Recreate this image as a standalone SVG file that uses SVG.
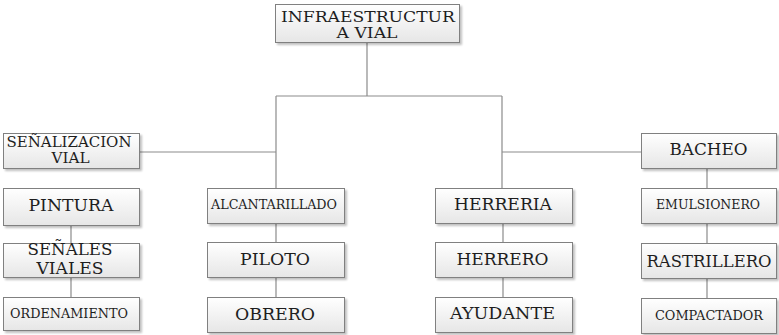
<svg xmlns="http://www.w3.org/2000/svg" width="779" height="335" viewBox="0 0 779 335">
<defs>
<linearGradient id="g" x1="0" y1="0" x2="0" y2="1">
<stop offset="0" stop-color="#ffffff"/>
<stop offset="1" stop-color="#e6e6e6"/>
</linearGradient>
<filter id="sh" x="-10%" y="-10%" width="130%" height="140%">
<feGaussianBlur in="SourceAlpha" stdDeviation="1"/>
<feOffset dx="2" dy="2" result="o"/>
<feComponentTransfer><feFuncA type="linear" slope="0.25"/></feComponentTransfer>
<feMerge><feMergeNode/><feMergeNode in="SourceGraphic"/></feMerge>
</filter>
</defs>
<style>
.b{fill:url(#g);stroke:#808080;stroke-width:1;filter:url(#sh)}
.t{font-family:"DejaVu Serif","Liberation Serif",serif;fill:#1e1e1e;text-anchor:middle}
.c{stroke:#8c8c8c;stroke-width:1.2;fill:none}
</style>
<g id="connectors">
<path class="c" d="M367,43 V96 M276,96 H502 M276,96 V188 M502,96 V188 M139,152 H276 M502,152 H641"/>
<path class="c" d="M71,226 V243 M71,277 V297 M276,223 V242 M276,277 V297 M503,223 V242 M503,277 V297 M707,168 V188 M707,223 V243 M707,278 V298"/>
</g>
<g id="infraestructura"><rect class="b" x="275.5" y="4.5" width="184" height="38"/><text class="t" x="368" y="21.5" font-size="15.5" textLength="174" lengthAdjust="spacingAndGlyphs">INFRAESTRUCTUR</text><text class="t" x="367" y="38" font-size="15.5" textLength="61" lengthAdjust="spacingAndGlyphs">A VIAL</text></g>
<g id="senalizacion"><rect class="b" x="3.5" y="133.5" width="136" height="35"/><text class="t" x="69" y="146.5" font-size="14" textLength="125" lengthAdjust="spacingAndGlyphs">SEÑALIZACION</text><text class="t" x="70.5" y="163" font-size="14" textLength="38" lengthAdjust="spacingAndGlyphs">VIAL</text></g>
<g id="pintura"><rect class="b" x="3.5" y="188.5" width="136" height="37"/><text class="t" x="71" y="211" font-size="17" textLength="85" lengthAdjust="spacingAndGlyphs">PINTURA</text></g>
<g id="senales"><rect class="b" x="3.5" y="243.5" width="136" height="34"/><text class="t" x="70" y="255" font-size="17" textLength="85" lengthAdjust="spacingAndGlyphs">SEÑALES</text><text class="t" x="70" y="274" font-size="17" textLength="67" lengthAdjust="spacingAndGlyphs">VIALES</text></g>
<g id="ordenamiento"><rect class="b" x="3.5" y="297.5" width="136" height="33"/><text class="t" x="69" y="318" font-size="12.5" textLength="118" lengthAdjust="spacingAndGlyphs">ORDENAMIENTO</text></g>
<g id="alcantarillado"><rect class="b" x="207.5" y="188.5" width="137" height="35"/><text class="t" x="274" y="208.5" font-size="12.5" textLength="126" lengthAdjust="spacingAndGlyphs">ALCANTARILLADO</text></g>
<g id="piloto"><rect class="b" x="207.5" y="242.5" width="137" height="35"/><text class="t" x="275" y="265" font-size="17" textLength="70" lengthAdjust="spacingAndGlyphs">PILOTO</text></g>
<g id="obrero"><rect class="b" x="207.5" y="297.5" width="137" height="35"/><text class="t" x="275" y="319.5" font-size="17" textLength="80" lengthAdjust="spacingAndGlyphs">OBRERO</text></g>
<g id="herreria"><rect class="b" x="435.5" y="188.5" width="137" height="35"/><text class="t" x="503" y="210" font-size="17" textLength="98" lengthAdjust="spacingAndGlyphs">HERRERIA</text></g>
<g id="herrero"><rect class="b" x="435.5" y="242.5" width="137" height="35"/><text class="t" x="502.5" y="264.5" font-size="17" textLength="92" lengthAdjust="spacingAndGlyphs">HERRERO</text></g>
<g id="ayudante"><rect class="b" x="435.5" y="297.5" width="137" height="35"/><text class="t" x="502.5" y="318.5" font-size="17" textLength="105" lengthAdjust="spacingAndGlyphs">AYUDANTE</text></g>
<g id="bacheo"><rect class="b" x="641.5" y="133.5" width="135" height="35"/><text class="t" x="708.5" y="155" font-size="17" textLength="78" lengthAdjust="spacingAndGlyphs">BACHEO</text></g>
<g id="emulsionero"><rect class="b" x="641.5" y="188.5" width="135" height="35"/><text class="t" x="708" y="208.5" font-size="12" textLength="104" lengthAdjust="spacingAndGlyphs">EMULSIONERO</text></g>
<g id="rastrillero"><rect class="b" x="641.5" y="243.5" width="135" height="35"/><text class="t" x="709" y="267" font-size="17.5" textLength="125" lengthAdjust="spacingAndGlyphs">RASTRILLERO</text></g>
<g id="compactador"><rect class="b" x="641.5" y="298.5" width="135" height="35"/><text class="t" x="709" y="320" font-size="12.5" textLength="108" lengthAdjust="spacingAndGlyphs">COMPACTADOR</text></g>
</svg>
